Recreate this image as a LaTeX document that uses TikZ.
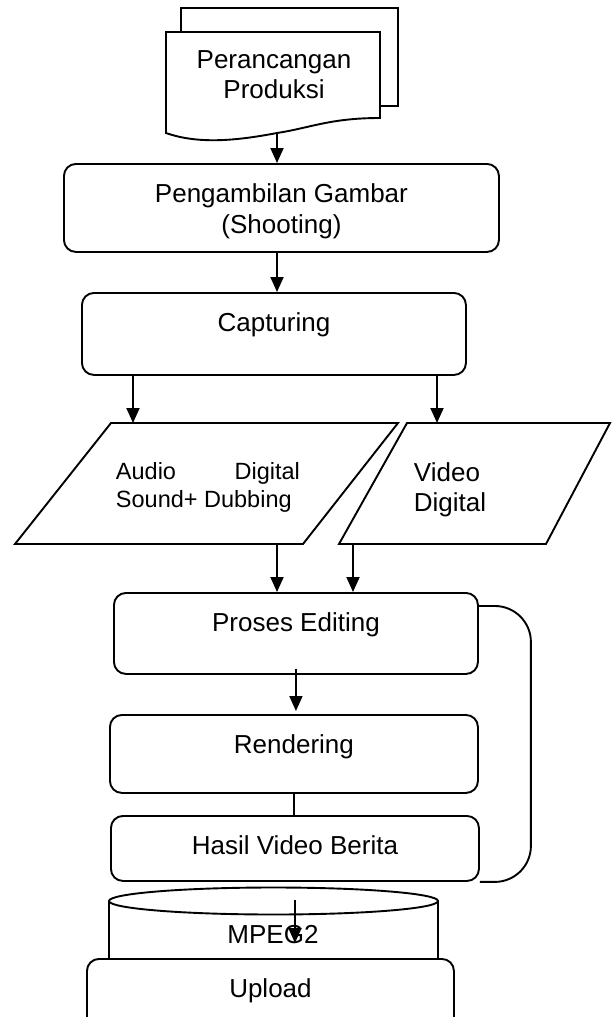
\documentclass[tikz,border=0pt]{standalone}
\usepackage{fontspec}
\setmainfont{Liberation Sans}
\usetikzlibrary{arrows.meta}

\begin{document}
\begin{tikzpicture}[x=1pt,y=-1pt,line width=1.9pt]
  \tikzset{box/.style={draw,fill=white,rounded corners=12pt,anchor=north west,inner sep=0pt,
             font=\fontsize{26}{31}\selectfont,text height=39pt},
           txt/.style={inner sep=0pt,font=\fontsize{26}{30}\selectfont},
           arr/.style={-{Triangle[length=15pt,width=13pt]}}}
  \useasboundingbox (0,0) rectangle (611,1017);
  % dokumen
  \draw[fill=white] (181,8) rectangle (398,106);
  \draw[fill=white] (166,32) -- (380,32) -- (380,118) .. controls (330,118) and (310,128) .. (277,133)
    .. controls (240,140) and (200,145) .. (166,133) -- cycle;
  \node[txt,anchor=base] (plan) at (274,68) {\parbox[t]{200pt}{\centering Perancangan\\Produksi}};
  \coordinate (docbot) at (277,133);
  \node[box,minimum width=435pt,minimum height=88pt,text depth=49pt] (shoot) at (63,163)
    {\parbox[t]{435pt}{\centering Pengambilan Gambar\\(Shooting)}};
  \node[box,minimum width=384pt,minimum height=82pt,text depth=43pt] (capture) at (81,292) {Capturing};
  % input output
  \draw (111,423) -- (398,423) -- (303,544) -- (15,544) -- cycle;
  \draw (407,423) -- (610,423) -- (546,544) -- (339,544) -- cycle;
  \node[txt,anchor=base west,font=\fontsize{23.5}{28}\selectfont] (audio) at (115,479)
    {\parbox[t]{184pt}{\makebox[184pt][s]{Audio\hfill Digital}\\Sound+ Dubbing}};
  \node[txt,anchor=base west] (video) at (413,481) {\parbox[t]{150pt}{\raggedright Video\\Digital}};
  \coordinate (audin) at (133,423);
  \coordinate (vidin) at (437,423);
  \coordinate (audout) at (277,544);
  \coordinate (vidout) at (353,544);
  \node[box,minimum width=364pt,minimum height=81pt,text depth=42pt] (edit) at (113,592) {Proses Editing};
  \node[box,minimum width=368pt,minimum height=78pt,text depth=39pt] (render) at (109,714) {Rendering};
  \node[box,minimum width=368pt,minimum height=65pt,text depth=26pt] (hasil) at (110,815) {Hasil Video Berita};
  % MPEG2
  \draw[fill=white] (109,901) -- (109,975) -- (438,975) -- (438,901);
  \draw[fill=white] (273.5,901) ellipse (164.5 and 13.5);
  \node[txt,anchor=base] (mpeg) at (273,943) {MPEG2};
  \node[box,minimum width=367pt,minimum height=75pt,text depth=36pt] (upload) at (86,958) {Upload};
  % panah
  \draw[arr] (docbot) -- (docbot |- shoot.north);
  \draw[arr] (docbot |- shoot.south) -- (docbot |- capture.north);
  \draw[arr] (capture.south -| audin) -- (audin);
  \draw[arr] (capture.south -| vidin) -- (vidin);
  \draw[arr] (audout) -- (audout |- edit.north);
  \draw[arr] (vidout) -- (vidout |- edit.north);
  \draw[arr] ([yshift=6pt]edit.south) -- ([yshift=3pt]edit.south |- render.north);
  \draw (render.south) -- (render.south |- hasil.north);
  \draw[rounded corners=36pt] ([yshift=-14pt]edit.north east) -- ++(52,0) |- (hasil.south east);
  \draw[arr] ([yshift=-18pt]hasil.south) -- (hasil.south |- mpeg.base);
\end{tikzpicture}
\end{document}
